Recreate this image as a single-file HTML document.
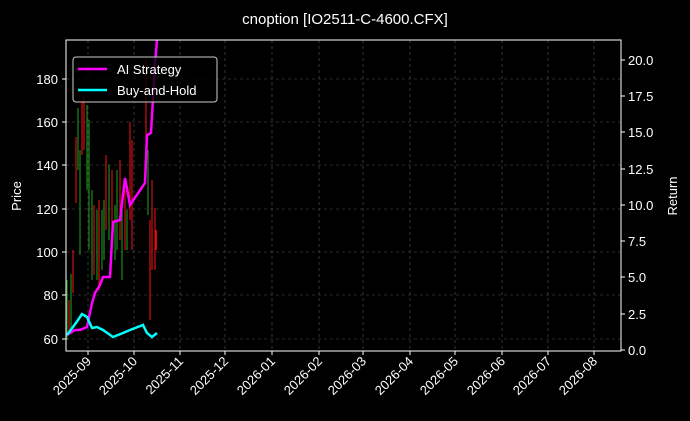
<!DOCTYPE html><html><head><style>body{margin:0;background:#000}svg{display:block;font-family:"Liberation Sans","DejaVu Sans",sans-serif}</style></head><body>
<svg width="690" height="421" xmlns="http://www.w3.org/2000/svg">
<rect width="690" height="421" fill="#000"/>
<text x="345" y="24" fill="#fff" font-size="15" text-anchor="middle">cnoption [IO2511-C-4600.CFX]</text>
<g stroke="#555" stroke-width="0.6" stroke-dasharray="3,3">
<line x1="88" y1="40" x2="88" y2="351"/><line x1="134" y1="40" x2="134" y2="351"/><line x1="180" y1="40" x2="180" y2="351"/><line x1="225" y1="40" x2="225" y2="351"/><line x1="272" y1="40" x2="272" y2="351"/><line x1="319" y1="40" x2="319" y2="351"/><line x1="363" y1="40" x2="363" y2="351"/><line x1="410" y1="40" x2="410" y2="351"/><line x1="455" y1="40" x2="455" y2="351"/><line x1="502" y1="40" x2="502" y2="351"/><line x1="548" y1="40" x2="548" y2="351"/><line x1="594" y1="40" x2="594" y2="351"/>
<line x1="66" y1="339" x2="621" y2="339"/><line x1="66" y1="295" x2="621" y2="295"/><line x1="66" y1="252" x2="621" y2="252"/><line x1="66" y1="209" x2="621" y2="209"/><line x1="66" y1="165" x2="621" y2="165"/><line x1="66" y1="122" x2="621" y2="122"/><line x1="66" y1="79" x2="621" y2="79"/>
</g>
<g stroke-width="1.2">
<line x1="67" y1="280" x2="67" y2="340" stroke="#1a8a1a"/><line x1="69" y1="300" x2="69" y2="335" stroke="#d01010"/>
<line x1="71" y1="274" x2="71" y2="330" stroke="#1a8a1a"/><line x1="73" y1="250" x2="73" y2="293" stroke="#d01010"/>
<line x1="76" y1="137" x2="76" y2="203" stroke="#d01010"/><line x1="78" y1="108" x2="78" y2="170" stroke="#1a8a1a"/>
<line x1="80" y1="150" x2="80" y2="255" stroke="#1a8a1a"/><line x1="82" y1="100" x2="82" y2="155" stroke="#d01010"/>
<line x1="84" y1="95" x2="84" y2="150" stroke="#d01010"/><line x1="87" y1="105" x2="87" y2="190" stroke="#1a8a1a"/>
<line x1="89" y1="120" x2="89" y2="250" stroke="#1a8a1a"/><line x1="92" y1="190" x2="92" y2="280" stroke="#1a8a1a"/>
<line x1="94" y1="205" x2="94" y2="275" stroke="#d01010"/><line x1="97" y1="210" x2="97" y2="280" stroke="#1a8a1a"/>
<line x1="99" y1="200" x2="99" y2="290" stroke="#d01010"/><line x1="102" y1="210" x2="102" y2="270" stroke="#1a8a1a"/>
<line x1="104" y1="200" x2="104" y2="260" stroke="#1a8a1a"/><line x1="106" y1="155" x2="106" y2="230" stroke="#d01010"/>
<line x1="109" y1="165" x2="109" y2="240" stroke="#1a8a1a"/><line x1="112" y1="170" x2="112" y2="235" stroke="#d01010"/>
<line x1="115" y1="205" x2="115" y2="260" stroke="#1a8a1a"/><line x1="117" y1="170" x2="117" y2="250" stroke="#1a8a1a"/>
<line x1="120" y1="160" x2="120" y2="240" stroke="#d01010"/><line x1="122" y1="195" x2="122" y2="280" stroke="#1a8a1a"/>
<line x1="125" y1="190" x2="125" y2="250" stroke="#d01010"/><line x1="127" y1="210" x2="127" y2="250" stroke="#1a8a1a"/>
<line x1="130" y1="122" x2="130" y2="220" stroke="#d01010"/><line x1="132" y1="140" x2="132" y2="250" stroke="#d01010"/>
<line x1="146" y1="60" x2="146" y2="140" stroke="#d01010"/><line x1="148" y1="150" x2="148" y2="215" stroke="#1a8a1a"/>
<line x1="150" y1="220" x2="150" y2="320" stroke="#d01010"/><line x1="152" y1="180" x2="152" y2="270" stroke="#d01010"/>
<line x1="155" y1="208" x2="155" y2="270" stroke="#d01010"/><line x1="156" y1="230" x2="156" y2="250" stroke="#d01010" stroke-width="2"/>
</g>
<polyline fill="none" stroke="#ff00ff" stroke-width="2.5" points="67,335 75,330 80,330 87,327 92,303 95,293 100,285 103,277 110,277 113,222 120,220 125,178 130,205 145,183 147,135 151,133 155,63 157,40"/>
<polyline fill="none" stroke="#00ffff" stroke-width="2.5" points="67,335 73,327 78,320 82,314 87,317 92,328 97,327 103,330 113,337 123,333 130,330 143,325 147,333 152,337 157,333"/>
<rect x="66" y="40" width="555" height="311" fill="none" stroke="#fff" stroke-width="1"/>
<g stroke="#fff"><line x1="88" y1="351" x2="88" y2="355"/><line x1="134" y1="351" x2="134" y2="355"/><line x1="180" y1="351" x2="180" y2="355"/><line x1="225" y1="351" x2="225" y2="355"/><line x1="272" y1="351" x2="272" y2="355"/><line x1="319" y1="351" x2="319" y2="355"/><line x1="363" y1="351" x2="363" y2="355"/><line x1="410" y1="351" x2="410" y2="355"/><line x1="455" y1="351" x2="455" y2="355"/><line x1="502" y1="351" x2="502" y2="355"/><line x1="548" y1="351" x2="548" y2="355"/><line x1="594" y1="351" x2="594" y2="355"/>
<line x1="62" y1="339" x2="66" y2="339"/><line x1="62" y1="295" x2="66" y2="295"/><line x1="62" y1="252" x2="66" y2="252"/><line x1="62" y1="209" x2="66" y2="209"/><line x1="62" y1="165" x2="66" y2="165"/><line x1="62" y1="122" x2="66" y2="122"/><line x1="62" y1="79" x2="66" y2="79"/>
<line x1="621" y1="350" x2="625" y2="350"/><line x1="621" y1="314" x2="625" y2="314"/><line x1="621" y1="277" x2="625" y2="277"/><line x1="621" y1="241" x2="625" y2="241"/><line x1="621" y1="205" x2="625" y2="205"/><line x1="621" y1="169" x2="625" y2="169"/><line x1="621" y1="132" x2="625" y2="132"/><line x1="621" y1="96" x2="625" y2="96"/><line x1="621" y1="60" x2="625" y2="60"/></g>
<g fill="#fff" font-size="13" text-anchor="end">
<text x="58" y="344">60</text><text x="58" y="300">80</text><text x="58" y="257">100</text><text x="58" y="214">120</text><text x="58" y="170">140</text><text x="58" y="127">160</text><text x="58" y="84">180</text>
</g>
<g fill="#fff" font-size="13">
<text x="628" y="355">0.0</text><text x="628" y="319">2.5</text><text x="628" y="282">5.0</text><text x="628" y="246">7.5</text><text x="628" y="210">10.0</text><text x="628" y="174">12.5</text><text x="628" y="137">15.0</text><text x="628" y="101">17.5</text><text x="628" y="65">20.0</text>
</g>
<text transform="translate(21,196) rotate(-90)" fill="#fff" font-size="13" text-anchor="middle">Price</text>
<text transform="translate(677,196) rotate(-90)" fill="#fff" font-size="13" text-anchor="middle">Return</text>
<g fill="#fff" font-size="13" text-anchor="end">
<text transform="translate(92,362) rotate(-45)">2025-09</text><text transform="translate(138,362) rotate(-45)">2025-10</text><text transform="translate(184,362) rotate(-45)">2025-11</text><text transform="translate(229,362) rotate(-45)">2025-12</text><text transform="translate(276,362) rotate(-45)">2026-01</text><text transform="translate(323,362) rotate(-45)">2026-02</text><text transform="translate(367,362) rotate(-45)">2026-03</text><text transform="translate(414,362) rotate(-45)">2026-04</text><text transform="translate(459,362) rotate(-45)">2026-05</text><text transform="translate(506,362) rotate(-45)">2026-06</text><text transform="translate(552,362) rotate(-45)">2026-07</text><text transform="translate(598,362) rotate(-45)">2026-08</text>
</g>
<rect x="73" y="57" width="144" height="45" rx="3" fill="#000" fill-opacity="0.8" stroke="#ccc" stroke-width="1"/>
<line x1="78" y1="69" x2="107" y2="69" stroke="#ff00ff" stroke-width="2.5"/>
<line x1="78" y1="90" x2="107" y2="90" stroke="#00ffff" stroke-width="2.5"/>
<text x="117" y="74" fill="#fff" font-size="13">AI Strategy</text>
<text x="117" y="95" fill="#fff" font-size="13">Buy-and-Hold</text>
</svg></body></html>
